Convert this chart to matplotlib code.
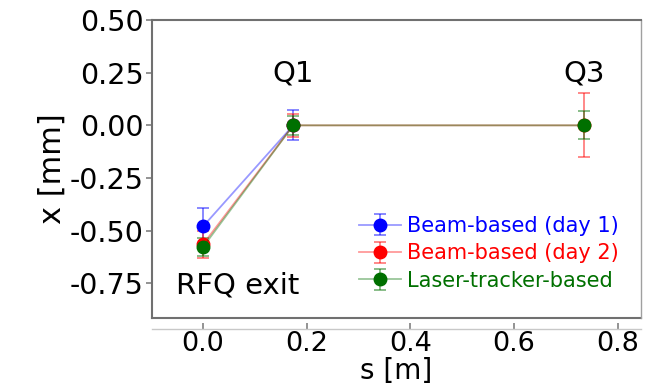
import matplotlib
matplotlib.use("Agg")
import matplotlib.pyplot as plt

# posicoes longitudinais (m)
s_day1 = [0.0, 0.174]
s_day2 = [0.0, 0.174, 0.735]
s_laser = [0.0, 0.174, 0.735]

# deslocamento horizontal (mm) e erros
x_day1 = [-0.48, 0.0]
e_day1 = [0.085, 0.072]
x_day2 = [-0.565, 0.0, 0.0]
e_day2 = [0.063, 0.055, 0.152]
x_laser = [-0.578, 0.0, 0.0]
e_laser = [0.045, 0.045, 0.066]

labels = ["Beam-based (day 1)", "Beam-based (day 2)", "Laser-tracker-based"]
colors = ["#0000ff", "#ff0000", "#007000"]

fig = plt.figure(figsize=(6.46, 3.87), dpi=100)
ax = fig.add_axes([0.235, 0.178, 0.757, 0.770])

series = [(s_day1, x_day1, e_day1), (s_day2, x_day2, e_day2), (s_laser, x_laser, e_laser)]
for (s, x, e), lab, c in zip(series, labels, colors):
    rgb = matplotlib.colors.to_rgb(c)
    ax.errorbar(s, x, yerr=e, fmt='-o', color=rgb + (0.4,), ecolor=rgb + (0.5,),
                mfc=c, mec=c, ms=9, lw=1.3, elinewidth=1.3, capsize=4, capthick=1.3,
                label=lab)

ax.set_xlim(-0.099, 0.845)
ax.set_ylim(-0.916, 0.5)
ax.set_yticks([0.5, 0.25, 0.0, -0.25, -0.5, -0.75])
ax.set_yticklabels(["0.50", "0.25", "0.00", "-0.25", "-0.50", "-0.75"])
ax.set_xticks([0.0, 0.2, 0.4, 0.6, 0.8])

for sp in ["top", "left", "right"]:
    ax.spines[sp].set_color("#707070")
    ax.spines[sp].set_linewidth(1.5)
ax.spines["right"].set_color("#a0a0a0")
ax.spines["right"].set_linewidth(1.0)
# eixo x deslocado para baixo, linha do quadro desenhada a parte
ax.spines["bottom"].set_position(("outward", 8))
ax.spines["bottom"].set_color("#c8c8c8")
ax.spines["bottom"].set_linewidth(1.0)
ax.plot([0, 1], [0, 0], transform=ax.transAxes, color="#707070", lw=1.5, clip_on=False)

ax.tick_params(axis="both", labelsize=20.5, colors="#808080", labelcolor="black", length=4, width=1.2)
ax.tick_params(axis="x", labelsize=19.5, pad=1, length=4, direction="in")
ax.tick_params(axis="y", pad=2)

ax.set_xlabel("s [m]", fontsize=20, va="bottom")
ax.xaxis.set_label_coords(0.5, -0.225)
ax.set_ylabel("x [mm]", fontsize=22, labelpad=2)

ax.text(0.174, 0.18, "Q1", fontsize=21, ha="center", va="bottom")
ax.text(0.735, 0.18, "Q3", fontsize=21, ha="center", va="bottom")
ax.text(0.066, -0.76, "RFQ exit", fontsize=21, ha="center", va="center")

leg = ax.legend(loc="lower right", frameon=False, fontsize=15, handlelength=2.0,
                handletextpad=0.3, labelspacing=0.35, borderaxespad=0.2,
                bbox_to_anchor=(0.98, 0.05))
for t, c in zip(leg.get_texts(), colors):
    t.set_color(c)

fig.savefig("out.png", dpi=100)
